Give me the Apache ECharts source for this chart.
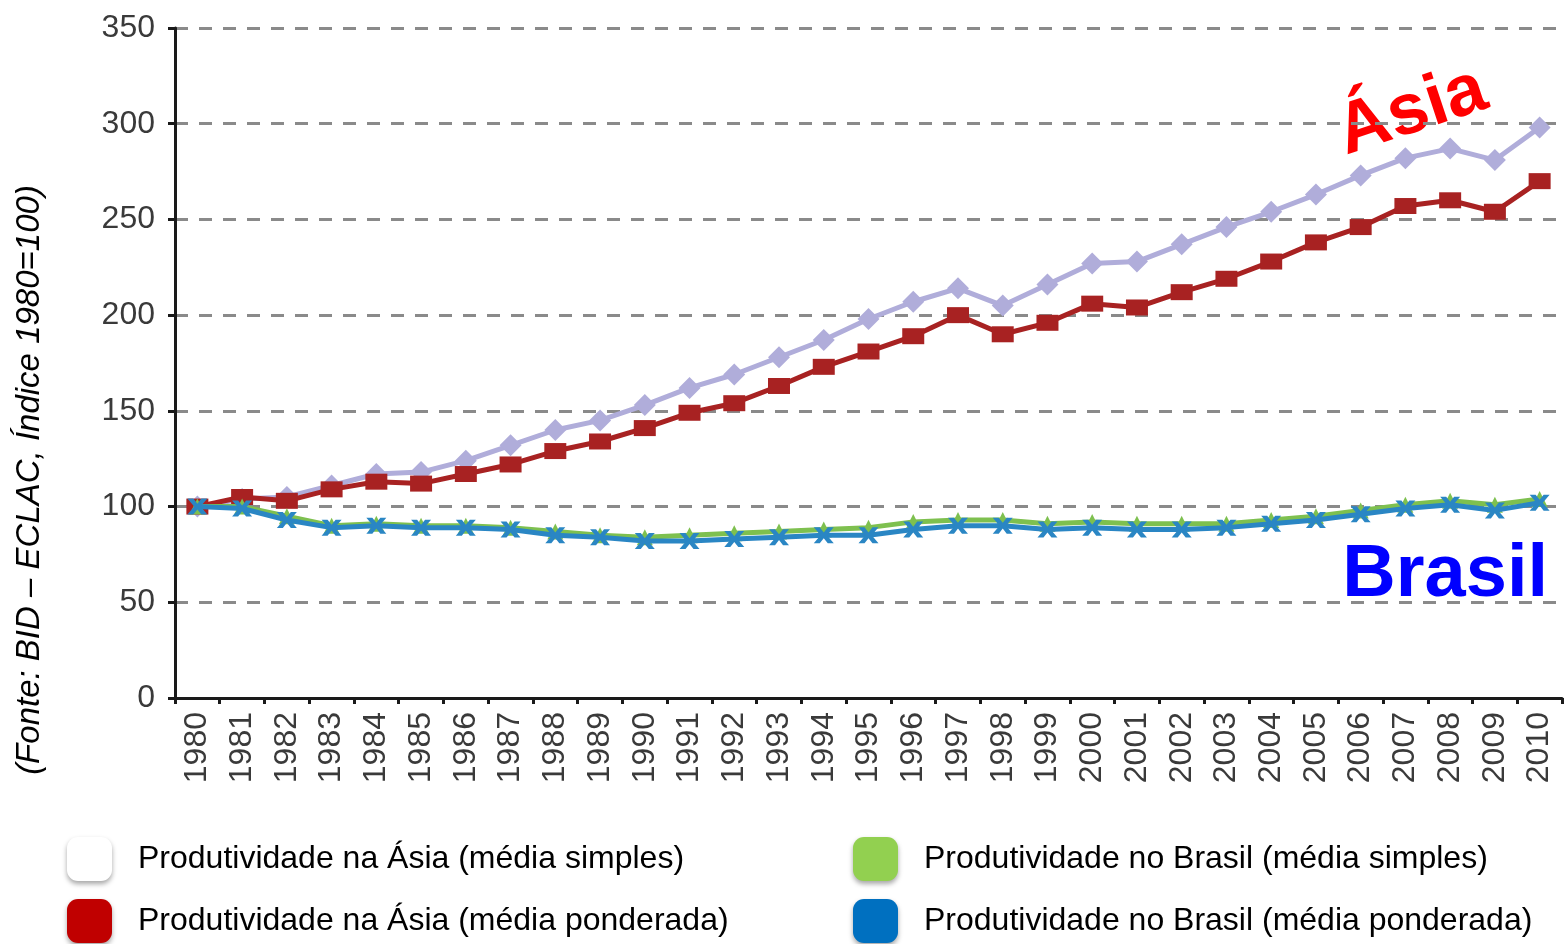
<!DOCTYPE html>
<html>
<head>
<meta charset="utf-8">
<script src="https://cdn.jsdelivr.net/npm/echarts@6/dist/echarts.min.js"></script>
<style>
  html, body { margin: 0; padding: 0; background: #fff; }
  #chart { width: 1566px; height: 944px; }
</style>
</head>
<body>
<div id="chart"></div>
<script>
// anos do eixo x
var anos = ["1980","1981","1982","1983","1984","1985","1986","1987","1988","1989",
  "1990","1991","1992","1993","1994","1995","1996","1997","1998","1999",
  "2000","2001","2002","2003","2004","2005","2006","2007","2008","2009","2010"];

var asiaSimples = [100, 104, 105, 111, 117, 118, 124, 132, 140, 145,
  153, 162, 169, 178, 187, 198, 207, 214, 205, 216,
  227, 228, 237, 246, 254, 263, 273, 282, 287, 281, 298];

var asiaPonderada = [100, 105, 103, 109, 113, 112, 117, 122, 129, 134,
  141, 149, 154, 163, 173, 181, 189, 200, 190, 196,
  206, 204, 212, 219, 228, 238, 246, 257, 260, 254, 270];

var brasilSimples = [100, 100, 95, 90, 91, 90, 90, 89, 87, 85,
  84, 85, 86, 87, 88, 89, 92, 93, 93, 91,
  92, 91, 91, 91, 93, 95, 98, 101, 103, 101, 104];

var brasilPonderada = [100, 99, 93, 89, 90, 89, 89, 88, 85, 84,
  82, 82, 83, 84, 85, 85, 88, 90, 90, 88,
  89, 88, 88, 89, 91, 93, 96, 99, 101, 98, 102];

var yTicks = [0, 50, 100, 150, 200, 250, 300, 350];

var nomes = [
  "Produtividade na Ásia (média simples)",
  "Produtividade na Ásia (média ponderada)",
  "Produtividade no Brasil (média simples)",
  "Produtividade no Brasil (média ponderada)"
];
var coresLegenda = ["#FFFFFF", "#C00000", "#92D050", "#0070C0"];

var xSymbol = "path://M0,0 L3,0 L5,3.2 L7,0 L10,0 L6.6,5 L10,10 L7,10 L5,6.8 L3,10 L0,10 L3.4,5 Z";

// uma legenda por item, para posicionar em duas colunas
var legendPos = [[62, 832], [62, 894], [848, 832], [848, 894]];
var legendas = nomes.map(function (n, i) {
  return {
    left: legendPos[i][0], top: legendPos[i][1],
    itemWidth: 45, itemHeight: 44,
    selectedMode: false,
    textStyle: {
      fontFamily: "Liberation Sans, Arial, sans-serif",
      fontSize: 32,
      color: "#000",
      padding: [0, 0, 24, 21]
    },
    data: [{
      name: n, icon: "roundRect",
      itemStyle: { color: coresLegenda[i], shadowBlur: 5, shadowColor: "rgba(0,0,0,0.35)", shadowOffsetY: 3 }
    }]
  };
});

var myChart = echarts.init(document.getElementById("chart"));

var option = {
  animation: false,
  grid: { left: 175, right: 4, top: 28, bottom: 246 },
  legend: legendas,
  xAxis: {
    type: "category",
    data: anos,
    boundaryGap: true,
    axisLine: { lineStyle: { color: "#1a1a1a", width: 3 } },
    axisTick: { show: true, length: 6, lineStyle: { color: "#1a1a1a", width: 3 } },
    axisLabel: {
      rotate: 90,
      margin: 14,
      interval: 0,
      fontFamily: "Liberation Sans, Arial, sans-serif",
      fontSize: 32,
      color: "#3a3a3a"
    }
  },
  yAxis: {
    type: "value",
    min: 0,
    max: 350,
    interval: 50,
    axisLine: { show: true, lineStyle: { color: "#1a1a1a", width: 3 } },
    axisTick: { show: true, length: 7, lineStyle: { color: "#1a1a1a", width: 3 } },
    axisLabel: {
      margin: 20,
      fontFamily: "Liberation Sans, Arial, sans-serif",
      fontSize: 32,
      color: "#3a3a3a",
      formatter: function (v) { return yTicks.indexOf(v) >= 0 ? String(v) : ""; }
    },
    splitLine: { lineStyle: { color: "#8a8a8a", width: 3, type: [13, 11] } }
  },
  series: [
    {
      name: nomes[0], type: "line", data: asiaSimples,
      color: "#B0ADDA",
      lineStyle: { width: 5, color: "#B0ADDA" },
      symbol: "diamond", symbolSize: 22,
      itemStyle: { color: "#B0ADDA" }, z: 2
    },
    {
      name: nomes[1], type: "line", data: asiaPonderada,
      color: "#A82222",
      lineStyle: { width: 5, color: "#A82222" },
      symbol: "rect", symbolSize: [22, 16],
      itemStyle: { color: "#A82222" }, z: 3
    },
    {
      name: nomes[2], type: "line", data: brasilSimples,
      color: "#7EC04F",
      lineStyle: { width: 5, color: "#7EC04F" },
      symbol: "triangle", symbolSize: 16,
      itemStyle: { color: "#7EC04F" }, z: 4
    },
    {
      name: nomes[3], type: "line", data: brasilPonderada,
      color: "#2A86C4",
      lineStyle: { width: 5, color: "#2A86C4" },
      symbol: xSymbol, symbolSize: [20, 16],
      itemStyle: { color: "#2A86C4" }, z: 5
    }
  ],
  graphic: [
    {
      type: "text", x: 30, y: 480, rotation: Math.PI / 2,
      style: {
        text: "(Fonte: BID – ECLAC, Índice 1980=100)",
        font: "italic 33px Liberation Sans, Arial, sans-serif",
        fill: "#000", align: "center", verticalAlign: "middle"
      }
    },
    {
      type: "text", x: 1412, y: 112, rotation: 0.32,
      style: {
        text: "Ásia",
        font: "bold 72px Liberation Sans, Arial, sans-serif",
        fill: "#FF0000", align: "center", verticalAlign: "middle"
      }
    },
    {
      type: "text", x: 1548, y: 576,
      style: {
        text: "Brasil",
        font: "bold 74px Liberation Sans, Arial, sans-serif",
        fill: "#0000FF", align: "right", verticalAlign: "middle"
      }
    }
  ]
};

myChart.setOption(option);
</script>
</body>
</html>
